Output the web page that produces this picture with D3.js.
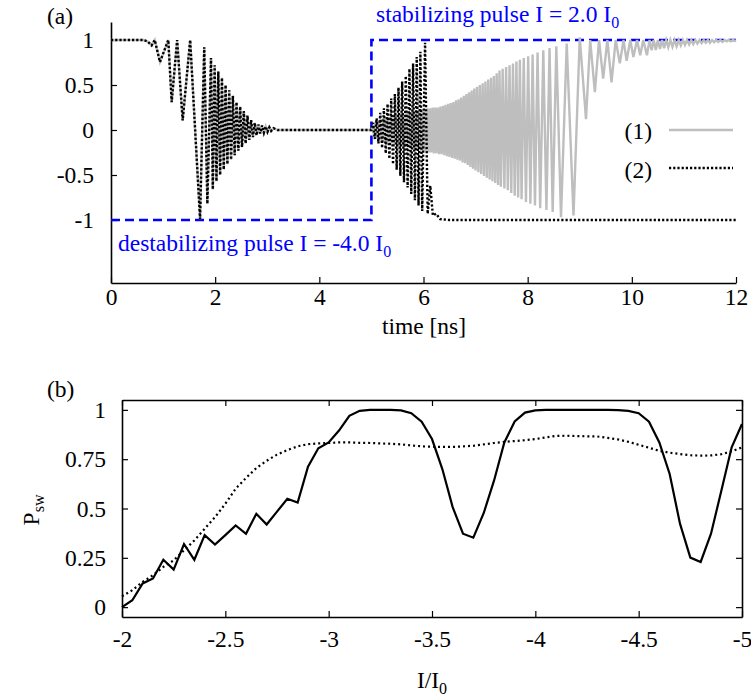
<!DOCTYPE html>
<html>
<head>
<meta charset="utf-8">
<script src="https://cdn.jsdelivr.net/npm/d3@7/dist/d3.min.js"></script>
<style>
  body { margin: 0; background: #fff; }
  svg text { font-family: "Liberation Serif", "Times New Roman", serif; }
</style>
</head>
<body>
<svg id="fig" width="751" height="700"></svg>
<script>
// ---------------- data: panel (a), magnetization vs time ----------------
const timeTicks = [0, 2, 4, 6, 8, 10, 12];
const mzTicks = [-1, -0.5, 0, 0.5, 1];

// pulse shape (destabilizing until 5 ns, stabilizing afterwards)
const pulseT = [0, 5, 5, 12];
const pulseLevel = [-1, -1, 1, 1];

// common trajectory during the destabilizing pulse: [time ns, m]
const destabPhase = [
  [0, 1], [0.62, 1], [0.7, 0.985], [0.78, 0.94], [0.84, 1.0], [0.94, 0.755],
  [1.10, 1.0], [1.165, 0.31], [1.27, 1.0], [1.376, 0.106], [1.52, 1.0],
  [1.71, -0.99], [1.79, 0.92], [1.85, -0.82],
  [1.92, 0.80], [1.955, -0.66], [1.99, 0.72], [2.025, -0.57], [2.06, 0.65],
  [2.095, -0.50], [2.13, 0.58], [2.165, -0.44], [2.20, 0.50], [2.235, -0.38],
  [2.27, 0.44], [2.305, -0.33], [2.34, 0.38], [2.375, -0.28], [2.41, 0.31],
  [2.445, -0.23], [2.48, 0.26], [2.515, -0.19], [2.55, 0.21], [2.585, -0.15],
  [2.62, 0.16], [2.655, -0.11], [2.69, 0.11], [2.725, -0.08], [2.76, 0.08],
  [2.795, -0.06], [2.83, 0.06], [2.865, -0.04], [2.90, 0.05], [2.935, -0.03],
  [2.97, 0.04], [3.005, -0.02], [3.04, 0.03], [3.075, -0.01], [3.12, 0.02],
  [3.2, 0], [5.0, 0]
];

// curve (1): after the stabilizing pulse, switches back to +1
const relax1 = [
  [5.025, 0.05], [5.05, -0.07], [5.075, 0.09], [5.10, -0.10], [5.125, 0.11],
  [5.15, -0.12], [5.175, 0.12], [5.20, -0.13], [5.225, 0.13], [5.25, -0.13],
  [5.275, 0.14], [5.30, -0.14], [5.325, 0.14], [5.35, -0.15], [5.375, 0.15],
  [5.40, -0.15], [5.425, 0.16], [5.45, -0.16], [5.475, 0.16], [5.50, -0.17],
  [5.525, 0.17], [5.55, -0.17], [5.575, 0.18], [5.60, -0.18], [5.625, 0.18],
  [5.65, -0.19], [5.675, 0.19], [5.70, -0.19], [5.725, 0.20], [5.75, -0.20],
  [5.775, 0.20], [5.80, -0.21], [5.825, 0.21], [5.85, -0.21], [5.875, 0.22],
  [5.90, -0.22], [5.925, 0.22], [5.95, -0.23], [5.975, 0.23], [6.00, -0.23],
  [6.025, 0.23], [6.05, -0.24], [6.075, 0.24], [6.10, -0.25], [6.125, 0.24],
  [6.15, -0.25], [6.175, 0.25], [6.20, -0.26], [6.225, 0.25], [6.25, -0.26],
  [6.275, 0.25], [6.30, -0.27], [6.325, 0.26], [6.35, -0.27], [6.375, 0.27],
  [6.40, -0.28], [6.425, 0.28], [6.45, -0.29], [6.475, 0.29], [6.50, -0.30],
  [6.525, 0.30], [6.55, -0.31], [6.575, 0.31], [6.60, -0.32], [6.625, 0.33],
  [6.65, -0.33], [6.675, 0.34], [6.70, -0.34], [6.725, 0.36], [6.75, -0.36],
  [6.775, 0.38], [6.80, -0.37], [6.825, 0.40], [6.85, -0.39], [6.875, 0.42],
  [6.90, -0.41], [6.925, 0.44], [6.95, -0.43], [6.975, 0.46], [7.00, -0.45],
  [7.027, 0.48], [7.054, -0.47], [7.081, 0.50], [7.108, -0.49], [7.135, 0.52],
  [7.162, -0.51], [7.189, 0.54], [7.216, -0.53], [7.243, 0.56], [7.27, -0.55],
  [7.297, 0.58], [7.324, -0.57], [7.351, 0.60], [7.378, -0.59], [7.405, 0.63],
  [7.432, -0.61], [7.459, 0.66], [7.486, -0.63], [7.52, 0.68], [7.553, -0.65],
  [7.586, 0.70], [7.619, -0.67], [7.652, 0.72], [7.685, -0.70], [7.718, 0.74],
  [7.751, -0.73], [7.784, 0.76], [7.817, -0.75], [7.85, 0.78], [7.883, -0.77],
  [7.925, 0.80], [7.967, -0.80], [8.01, 0.82], [8.052, -0.82], [8.095, 0.84],
  [8.14, -0.84], [8.19, 0.86], [8.24, -0.87], [8.30, 0.885], [8.36, -0.89],
  [8.42, 0.91], [8.48, -0.91], [8.55, 0.93], [8.64, -0.97], [8.75, 0.96],
  [8.88, -0.95], [9.00, 1.03], [9.12, 0.12], [9.20, 1.0], [9.29, 0.42],
  [9.37, 1.0], [9.45, 0.57], [9.53, 1.0], [9.61, 0.53], [9.69, 1.0],
  [9.77, 0.74], [9.84, 1.0], [9.90, 0.77], [9.97, 1.0], [10.03, 0.81],
  [10.10, 1.0], [10.16, 0.83], [10.22, 1.0], [10.29, 0.83], [10.34, 1.0],
  [10.38, 0.885], [10.42, 1.0], [10.46, 0.89], [10.50, 1.0], [10.54, 0.90],
  [10.58, 1.0], [10.62, 0.91], [10.66, 1.0], [10.70, 0.92], [10.74, 1.0],
  [10.78, 0.925], [10.82, 1.0], [10.86, 0.93], [10.90, 1.0], [10.94, 0.94],
  [10.98, 1.0], [11.02, 0.945], [11.06, 1.0], [11.10, 0.95], [11.14, 1.0],
  [11.18, 0.955], [11.22, 1.0], [11.26, 0.96], [11.30, 1.0], [11.34, 0.965],
  [11.38, 1.0], [11.42, 0.97], [11.46, 1.0], [11.50, 0.97], [11.54, 1.0],
  [11.58, 0.975], [11.62, 1.0], [11.66, 0.98], [11.70, 1.0], [11.74, 0.98],
  [11.78, 1.0], [11.82, 0.985], [11.86, 1.0], [11.90, 0.985], [11.94, 1.0],
  [11.98, 0.99], [12.0, 0.995]
];

// curve (2): after the stabilizing pulse, ends at -1
const relax2 = [
  [5.03, 0.08], [5.065, -0.10], [5.10, 0.13], [5.135, -0.15], [5.17, 0.19],
  [5.205, -0.20], [5.24, 0.24], [5.275, -0.26], [5.31, 0.29], [5.345, -0.32],
  [5.38, 0.35], [5.415, -0.38], [5.45, 0.40], [5.485, -0.44], [5.52, 0.47],
  [5.555, -0.51], [5.59, 0.54], [5.625, -0.58], [5.66, 0.60], [5.695, -0.64],
  [5.73, 0.68], [5.765, -0.71], [5.80, 0.74], [5.835, -0.78], [5.87, 0.81],
  [5.905, -0.84], [5.94, 0.87], [5.975, -0.90], [6.03, 0.97], [6.08, -0.93],
  [6.13, -0.62], [6.18, -0.95], [6.24, -0.93], [6.32, -0.99], [6.5, -1.0],
  [12.0, -1.0]
];

// ---------------- data: panel (b), switching probability ----------------
const currentRatio = [
  -2.00, -2.05, -2.10, -2.15, -2.20, -2.25, -2.30, -2.35, -2.40, -2.45,
  -2.50, -2.55, -2.60, -2.65, -2.70, -2.75, -2.80, -2.85, -2.90, -2.95,
  -3.00, -3.05, -3.10, -3.15, -3.20, -3.25, -3.30, -3.35, -3.40, -3.45,
  -3.50, -3.55, -3.60, -3.65, -3.70, -3.75, -3.80, -3.85, -3.90, -3.95,
  -4.00, -4.05, -4.10, -4.15, -4.20, -4.25, -4.30, -4.35, -4.40, -4.45,
  -4.50, -4.55, -4.60, -4.65, -4.70, -4.75, -4.80, -4.85, -4.90, -4.95,
  -5.00
];
const pswSolid = [
  0.00, 0.035, 0.12, 0.145, 0.24, 0.19, 0.32, 0.24, 0.365, 0.317,
  0.365, 0.414, 0.372, 0.473, 0.419, 0.484, 0.549, 0.53, 0.712, 0.805,
  0.835, 0.895, 0.97, 0.995, 1.0, 1.0, 1.0, 0.997, 0.983, 0.94,
  0.852, 0.70, 0.507, 0.372, 0.352, 0.476, 0.641, 0.835, 0.941, 0.986,
  0.997, 1.0, 1.0, 1.0, 1.0, 1.0, 1.0, 1.0, 0.999, 0.995,
  0.983, 0.94, 0.835, 0.675, 0.423, 0.251, 0.229, 0.372, 0.59, 0.81,
  0.928
];
const pswDotted = [
  0.055, 0.086, 0.128, 0.162, 0.204, 0.237, 0.288, 0.338, 0.397, 0.456,
  0.524, 0.60, 0.655, 0.705, 0.742, 0.773, 0.796, 0.815, 0.826, 0.83,
  0.832, 0.835, 0.835, 0.833, 0.832, 0.83, 0.828, 0.825, 0.82, 0.815,
  0.813, 0.812, 0.812, 0.815, 0.818, 0.825, 0.832, 0.838, 0.842, 0.846,
  0.852, 0.86, 0.868, 0.869, 0.867, 0.866, 0.865, 0.858, 0.85, 0.838,
  0.823, 0.808, 0.792, 0.783, 0.776, 0.77, 0.768, 0.769, 0.775, 0.79,
  0.81
];
const iTicks = [-2, -2.5, -3, -3.5, -4, -4.5, -5];
const pTicks = [0, 0.25, 0.5, 0.75, 1];

// ---------------- drawing ----------------
const svg = d3.select("#fig");
const FONT = "Liberation Serif, Times New Roman, serif";
const FS = 23.5;      // main text size
const FSUB = 16;      // subscript size
const GRAY = "#bebebe";
const BLUE = "#0000ff";

function styleAxis(g) {
  g.attr("font-family", FONT).attr("font-size", FS);
  g.select("path.domain").attr("stroke", "#000").attr("stroke-width", 1.6);
  g.selectAll(".tick line").attr("stroke", "#000").attr("stroke-width", 1.2);
  g.selectAll(".tick text").attr("fill", "#000");
}
const fmt = d => String(d);

// ----- panel (a)
const xA = d3.scaleLinear().domain([0, 12]).range([111, 736]);
const yA = d3.scaleLinear().domain([-1.7, 1.2]).range([283, 22]);

svg.append("g").attr("transform", "translate(0,283)")
  .call(d3.axisBottom(xA).tickValues(timeTicks).tickFormat(fmt)
    .tickSizeInner(-6).tickSizeOuter(0).tickPadding(5))
  .call(styleAxis);
svg.append("g").attr("transform", "translate(111,0)")
  .call(d3.axisLeft(yA).tickValues(mzTicks).tickFormat(fmt)
    .tickSizeInner(-6).tickSizeOuter(0).tickPadding(17))
  .call(styleAxis);

const lineA = d3.line().x(d => xA(d[0])).y(d => yA(d[1]));
const series1 = destabPhase.concat(relax1);
const series2 = destabPhase.concat(relax2);

// pulse outline
svg.append("path")
  .attr("d", lineA(pulseT.map((t, i) => [t, pulseLevel[i]])))
  .attr("fill", "none").attr("stroke", BLUE).attr("stroke-width", 2.6)
  .attr("stroke-dasharray", "9,5");

svg.append("path").attr("d", lineA(series1))
  .attr("fill", "none").attr("stroke", GRAY).attr("stroke-width", 2.4)
  .attr("stroke-linejoin", "miter").attr("stroke-miterlimit", 4);
svg.append("path").attr("d", lineA(series2))
  .attr("fill", "none").attr("stroke", "#000").attr("stroke-width", 2.4)
  .attr("stroke-dasharray", "2.2,2");

// legend
svg.append("text").attr("x", 652).attr("y", 139).attr("text-anchor", "end")
  .attr("font-size", FS).text("(1)");
svg.append("line").attr("x1", 669).attr("x2", 733).attr("y1", 130).attr("y2", 130)
  .attr("stroke", GRAY).attr("stroke-width", 2.4);
svg.append("text").attr("x", 652).attr("y", 178).attr("text-anchor", "end")
  .attr("font-size", FS).text("(2)");
svg.append("line").attr("x1", 669).attr("x2", 733).attr("y1", 168).attr("y2", 168)
  .attr("stroke", "#000").attr("stroke-width", 2.4).attr("stroke-dasharray", "2.2,2");

// pulse annotations
const t1 = svg.append("text").attr("x", 376).attr("y", 22).attr("fill", BLUE)
  .attr("font-size", FS).text("stabilizing pulse I = 2.0 I");
t1.append("tspan").attr("font-size", FSUB).attr("dy", 6).text("0");
const t2 = svg.append("text").attr("x", 118).attr("y", 251).attr("fill", BLUE)
  .attr("font-size", FS).text("destabilizing pulse I = -4.0 I");
t2.append("tspan").attr("font-size", FSUB).attr("dy", 6).text("0");

svg.append("text").attr("x", 424).attr("y", 334).attr("text-anchor", "middle")
  .attr("font-size", FS).text("time [ns]");
svg.append("text").attr("x", 47).attr("y", 24).attr("font-size", FS).text("(a)");

// ----- panel (b)
const xB = d3.scaleLinear().domain([-2, -5]).range([122, 742]);
const yB = d3.scaleLinear().domain([-0.05, 1.05]).range([617, 400]);

svg.append("g").attr("transform", "translate(0,617)")
  .call(d3.axisBottom(xB).tickValues(iTicks).tickFormat(fmt)
    .tickSizeInner(-6).tickSizeOuter(0).tickPadding(13))
  .call(styleAxis);
svg.append("g").attr("transform", "translate(0,400)")
  .call(d3.axisTop(xB).tickValues(iTicks).tickFormat("")
    .tickSizeInner(-6).tickSizeOuter(0))
  .call(styleAxis);
svg.append("g").attr("transform", "translate(122,0)")
  .call(d3.axisLeft(yB).tickValues(pTicks).tickFormat(fmt)
    .tickSizeInner(-6).tickSizeOuter(0).tickPadding(16))
  .call(styleAxis);
svg.append("g").attr("transform", "translate(742,0)")
  .call(d3.axisRight(yB).tickValues(pTicks).tickFormat("")
    .tickSizeInner(-6).tickSizeOuter(0))
  .call(styleAxis);

const lineB = d3.line().x(d => xB(d[0])).y(d => yB(d[1]));
svg.append("path").attr("d", lineB(currentRatio.map((c, i) => [c, pswDotted[i]])))
  .attr("fill", "none").attr("stroke", "#000").attr("stroke-width", 2.2)
  .attr("stroke-dasharray", "2,3");
svg.append("path").attr("d", lineB(currentRatio.map((c, i) => [c, pswSolid[i]])))
  .attr("fill", "none").attr("stroke", "#000").attr("stroke-width", 2.2)
  .attr("stroke-linejoin", "miter");

svg.append("text").attr("x", 47).attr("y", 397).attr("font-size", FS).text("(b)");
const xl = svg.append("text").attr("x", 432).attr("y", 688).attr("text-anchor", "middle")
  .attr("font-size", FS).text("I/I");
xl.append("tspan").attr("font-size", FSUB).attr("dy", 6).text("0");
const yl = svg.append("text").attr("transform", "translate(39,510) rotate(-90)")
  .attr("text-anchor", "middle").attr("font-size", FS).text("P");
yl.append("tspan").attr("font-size", FSUB).attr("dy", 5).text("sw");
</script>
</body>
</html>
